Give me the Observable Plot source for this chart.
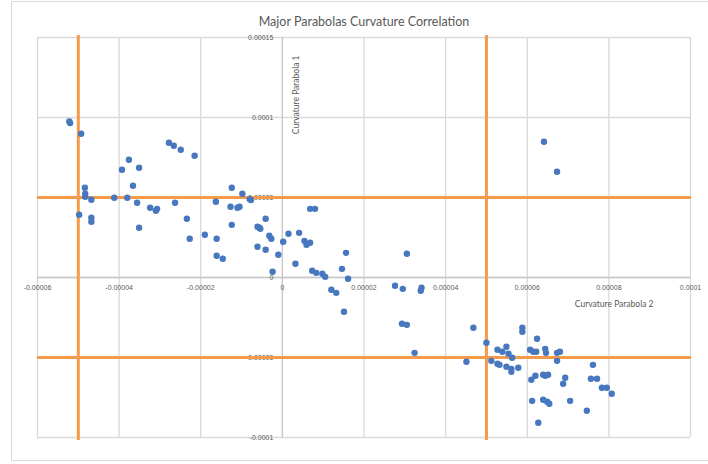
<!DOCTYPE html>
<html>
<head>
<meta charset="utf-8">
<script src="https://cdn.jsdelivr.net/npm/d3@7"></script>
<script src="https://cdn.jsdelivr.net/npm/@observablehq/plot@0.6"></script>
<style>
  html, body { margin: 0; padding: 0; background: #fff; }
  #wrap { position: relative; width: 708px; height: 464px; overflow: hidden; }
  #frame { position: absolute; left: 11px; top: 1px; width: 720px; height: 460px; border: 1px solid #d9d9d9; box-sizing: border-box; }
  #chart { position: absolute; left: 0; top: 0; }
</style>
</head>
<body>
<div id="wrap"><div id="frame"></div><div id="chart"></div></div>
<script>
const chartTitle = "Major Parabolas Curvature Correlation";
const xTitle = "Curvature Parabola 2";
const yTitle = "Curvature Parabola 1";

// Curvature Parabola 2 (x) and Curvature Parabola 1 (y)
const curvatureP2 = [
  -52.2e-6, -52.0e-6, -49.3e-6, -48.4e-6, -48.3e-6, -48.3e-6, -46.8e-6, -49.8e-6, -46.8e-6, -46.8e-6,
  -41.2e-6, -38.0e-6, -39.3e-6, -37.6e-6, -35.1e-6, -36.6e-6, -35.6e-6, -32.4e-6, -31.0e-6, -30.7e-6,
  -35.1e-6, -27.8e-6, -26.6e-6, -24.9e-6, -21.5e-6, -26.3e-6, -23.4e-6, -22.7e-6, -19.0e-6, -16.1e-6,
  -16.1e-6, -14.6e-6, -16.3e-6, -12.4e-6, -9.8e-6, -8.0e-6, -7.7e-6, -12.7e-6, -11.0e-6, -10.5e-6,
  -12.4e-6, -6.1e-6, -6.1e-6, -4.1e-6, -5.6e-6, -5.4e-6, -3.2e-6, -2.7e-6, -4.1e-6, -2.4e-6,
  -1.0e-6, 0.2e-6, 1.5e-6, 4.1e-6, 5.4e-6, 5.9e-6, 6.8e-6, 3.2e-6, 6.8e-6, 8.0e-6,
  7.3e-6, 8.3e-6, 9.8e-6, 10.5e-6, 14.6e-6, 15.6e-6, 16.1e-6, 12.0e-6, 13.2e-6, 15.1e-6,
  30.5e-6, 27.6e-6, 29.5e-6, 34.1e-6, 33.9e-6, 29.3e-6, 30.5e-6, 32.4e-6, 46.8e-6, 50.0e-6,
  45.1e-6, 58.8e-6, 58.8e-6, 62.4e-6, 52.7e-6, 53.9e-6, 54.9e-6, 55.4e-6, 56.3e-6, 51.2e-6,
  52.7e-6, 53.2e-6, 54.9e-6, 56.1e-6, 56.1e-6, 57.8e-6, 60.7e-6, 61.5e-6, 62.2e-6, 64.4e-6,
  64.6e-6, 67.3e-6, 68.0e-6, 67.3e-6, 76.1e-6, 75.6e-6, 77.1e-6, 78.3e-6, 79.5e-6, 80.7e-6,
  61.0e-6, 62.0e-6, 63.9e-6, 64.4e-6, 65.1e-6, 69.3e-6, 68.8e-6, 61.2e-6, 63.9e-6, 64.9e-6,
  65.4e-6, 70.5e-6, 74.6e-6, 62.7e-6, 64.1e-6, 67.3e-6
];
const curvatureP1 = [
  97.5e-6, 96.5e-6, 89.8e-6, 56.1e-6, 52.3e-6, 50.4e-6, 48.6e-6, 39.2e-6, 37.3e-6, 34.8e-6,
  49.8e-6, 49.8e-6, 67.3e-6, 73.6e-6, 68.6e-6, 57.3e-6, 46.7e-6, 43.6e-6, 41.7e-6, 42.9e-6,
  31.1e-6, 84.2e-6, 82.3e-6, 79.8e-6, 76.1e-6, 46.7e-6, 36.7e-6, 24.2e-6, 26.7e-6, 24.2e-6,
  13.6e-6, 11.7e-6, 47.3e-6, 56.1e-6, 52.3e-6, 49.0e-6, 48.4e-6, 44.2e-6, 43.6e-6, 44.2e-6,
  32.9e-6, 31.7e-6, 19.2e-6, 36.7e-6, 31.1e-6, 30.4e-6, 26.1e-6, 24.2e-6, 17.3e-6, 3.6e-6,
  14.2e-6, 22.3e-6, 27.3e-6, 27.9e-6, 22.9e-6, 20.4e-6, 21.7e-6, 8.6e-6, 42.9e-6, 42.9e-6,
  4.2e-6, 2.9e-6, 2.3e-6, 0.4e-6, 5.4e-6, 15.4e-6, -0.8e-6, -7.7e-6, -9.6e-6, -21.4e-6,
  14.8e-6, -5.2e-6, -7.1e-6, -6.4e-6, -8.3e-6, -28.9e-6, -29.6e-6, -47.1e-6, -31.4e-6, -40.8e-6,
  -52.7e-6, -31.4e-6, -33.9e-6, -38.3e-6, -45.2e-6, -46.4e-6, -43.3e-6, -47.7e-6, -50.2e-6, -52.1e-6,
  -53.9e-6, -54.6e-6, -55.8e-6, -57.1e-6, -58.9e-6, -56.4e-6, -45.2e-6, -46.4e-6, -46.4e-6, -44.6e-6,
  -47.1e-6, -47.1e-6, -46.4e-6, -52.1e-6, -54.6e-6, -63.3e-6, -63.3e-6, -68.9e-6, -68.9e-6, -72.7e-6,
  -63.9e-6, -61.4e-6, -60.8e-6, -61.4e-6, -60.8e-6, -62.7e-6, -66.4e-6, -77.1e-6, -76.4e-6, -77.7e-6,
  -78.9e-6, -77.1e-6, -83.3e-6, -90.8e-6, 84.8e-6, 66.1e-6
];

const xTicks = [-0.00006, -0.00004, -0.00002, 0, 0.00002, 0.00004, 0.00006, 0.00008, 0.0001];
const xTickLabels = ["-0.00006", "-0.00004", "-0.00002", "0", "0.00002", "0.00004", "0.00006", "0.00008", "0.0001"];
const yTicks = [-0.0001, -0.00005, 0, 0.00005, 0.0001, 0.00015];
const yTickLabels = ["-0.0001", "-0.00005", "0", "0.00005", "0.0001", "0.00015"];

// Orange threshold lines
const thresholdX = [-0.00005, 0.00005];
const thresholdY = [-0.00005, 0.00005];

const points = curvatureP2.map((x, i) => ({x, y: curvatureP1[i]}));
const xTickData = xTicks.map((v, i) => ({v, label: xTickLabels[i]}));
const yTickData = yTicks.map((v, i) => ({v, label: yTickLabels[i]}));

const gray = "#595959";
const tickFont = "Liberation Sans, Arial, sans-serif";
const titleFont = "Lato, 'Open Sans', sans-serif";

const chart = Plot.plot({
  width: 708,
  height: 464,
  marginLeft: 37,
  marginRight: 18,
  marginTop: 37,
  marginBottom: 27,
  x: {domain: [-0.00006, 0.0001], axis: null},
  y: {domain: [-0.0001, 0.00015], axis: null},
  style: {background: "transparent", overflow: "visible"},
  marks: [
    Plot.gridX(xTicks, {stroke: "#d9d9d9", strokeOpacity: 1, strokeWidth: 1.3}),
    Plot.gridY(yTicks, {stroke: "#d9d9d9", strokeOpacity: 1, strokeWidth: 1.3}),
    Plot.ruleX([0], {stroke: "#c8c8c8", strokeWidth: 1.3}),
    Plot.ruleY([0], {stroke: "#c8c8c8", strokeWidth: 1.3}),
    Plot.text(xTickData.filter(d => d.v !== 0 || true), {
      x: "v", y: () => 0, text: "label", dy: 10,
      fontSize: 7, fill: gray, fontFamily: tickFont
    }),
    Plot.text(yTickData, {
      x: () => 0, y: "v", text: "label", dx: -9, dy: 0.5, textAnchor: "end",
      fontSize: 7, fill: gray, fontFamily: tickFont
    }),
    Plot.ruleX(thresholdX, {stroke: "#f59a4b", strokeWidth: 3, insetTop: -2, insetBottom: -3}),
    Plot.ruleY(thresholdY, {stroke: "#f59a4b", strokeWidth: 3, insetRight: -1}),
    Plot.dot(points, {x: "x", y: "y", r: 3.2, fill: "#4677bf", stroke: "none"}),
    Plot.text([chartTitle], {
      frameAnchor: "top", dy: -20, fontSize: 12.5, fill: gray, fontFamily: titleFont
    }),
    Plot.text([yTitle], {
      x: () => 0, frameAnchor: "top", dx: 11, dy: 18, rotate: -90, textAnchor: "end",
      fontSize: 8.5, fill: gray, fontFamily: titleFont
    }),
    Plot.text([xTitle], {
      y: () => 0, frameAnchor: "right", dx: -37, dy: 27, textAnchor: "end",
      fontSize: 8.5, fill: gray, fontFamily: titleFont
    })
  ]
});
document.getElementById("chart").appendChild(chart);
</script>
</body>
</html>
